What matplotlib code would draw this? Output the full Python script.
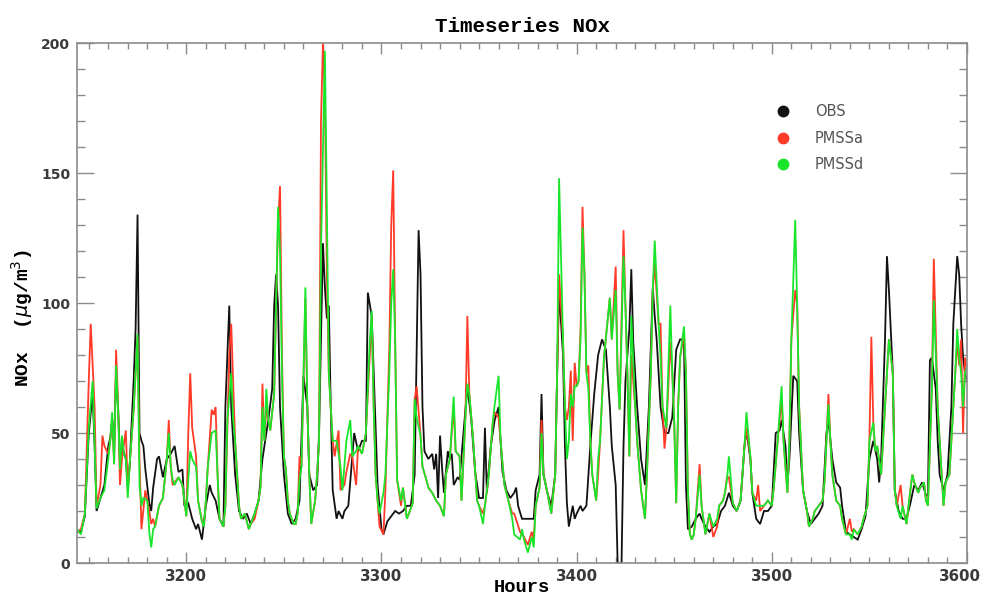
"""Hourly NOx timeseries: observations vs. two PMSS model runs."""

import matplotlib
matplotlib.use("Agg")
import matplotlib.pyplot as plt
from matplotlib.lines import Line2D
from matplotlib.ticker import MultipleLocator
from matplotlib.transforms import ScaledTranslation

# (hour, NOx ug/m3), one list per series
obs = [
    (3144, 12), (3146, 12), (3148, 18), (3150, 50), (3152, 65), (3153, 45), (3154, 20),
    (3156, 25), (3158, 30), (3160, 45), (3161, 48), (3162, 55), (3163, 45), (3164, 74),
    (3165, 60), (3166, 40), (3167, 45), (3169, 40), (3170, 30), (3171, 38), (3173, 70),
    (3174, 90), (3175, 134), (3176, 50), (3177, 47), (3178, 45), (3179, 36), (3181, 23),
    (3182, 20), (3183, 29), (3185, 40), (3186, 41), (3188, 33), (3190, 40), (3192, 42),
    (3194, 45), (3196, 35), (3198, 36), (3199, 22), (3201, 23), (3203, 17), (3205, 13),
    (3206, 15), (3208, 9), (3210, 22), (3212, 30), (3213, 27), (3215, 24), (3217, 17),
    (3219, 14), (3220, 60), (3222, 99), (3223, 60), (3225, 34), (3227, 20), (3229, 17),
    (3231, 19), (3233, 15), (3235, 19), (3237, 24), (3239, 40), (3241, 50), (3242, 55),
    (3244, 67), (3245, 99), (3246, 111), (3247, 99), (3248, 60), (3250, 34), (3252, 19),
    (3254, 15), (3256, 17), (3258, 24), (3260, 72), (3262, 60), (3263, 34), (3265, 28),
    (3267, 30), (3268, 50), (3270, 123), (3271, 106), (3272, 94), (3273, 99), (3274, 60),
    (3275, 28), (3277, 17), (3278, 20), (3280, 17), (3281, 20), (3283, 22), (3285, 41),
    (3286, 50), (3288, 43), (3290, 47), (3292, 47), (3293, 104), (3295, 95), (3296, 73),
    (3297, 50), (3298, 30), (3300, 13), (3301, 11), (3303, 16), (3305, 18), (3307, 20),
    (3309, 19), (3311, 20), (3313, 22), (3315, 22), (3317, 34), (3318, 80), (3319, 128),
    (3320, 111), (3321, 60), (3322, 43), (3324, 40), (3326, 42), (3327, 36), (3328, 42),
    (3329, 25), (3330, 49), (3331, 37), (3332, 27), (3334, 43), (3335, 40), (3336, 42),
    (3337, 30), (3339, 33), (3340, 32), (3342, 50), (3344, 68), (3346, 55), (3348, 35),
    (3350, 25), (3352, 25), (3353, 52), (3354, 27), (3356, 45), (3358, 55), (3360, 60),
    (3361, 47), (3362, 35), (3364, 28), (3366, 25), (3368, 27), (3369, 29), (3370, 22),
    (3372, 17), (3375, 17), (3378, 17), (3379, 28), (3381, 34), (3382, 65), (3383, 34),
    (3385, 27), (3387, 22), (3389, 34), (3390, 73), (3391, 105), (3393, 80), (3394, 45),
    (3395, 23), (3396, 14), (3398, 22), (3399, 17), (3400, 19), (3402, 22), (3403, 20),
    (3405, 22), (3407, 45), (3409, 65), (3411, 80), (3413, 86), (3415, 82), (3417, 60),
    (3418, 45), (3420, 30), (3421, 0), (3423, 0), (3424, 45), (3425, 70), (3427, 90),
    (3428, 113), (3429, 85), (3431, 60), (3433, 40), (3435, 30), (3437, 60), (3439, 106),
    (3440, 95), (3441, 86), (3443, 60), (3445, 50), (3447, 50), (3449, 56), (3451, 82),
    (3453, 86), (3455, 86), (3456, 30), (3457, 13), (3459, 14), (3461, 17), (3463, 19),
    (3464, 17), (3466, 14), (3468, 12), (3470, 14), (3472, 15), (3474, 20), (3476, 22),
    (3478, 27), (3480, 22), (3482, 20), (3484, 24), (3486, 45), (3487, 51), (3489, 40),
    (3490, 27), (3492, 17), (3494, 15), (3496, 20), (3498, 20), (3500, 22), (3502, 50),
    (3504, 51), (3505, 55), (3507, 45), (3508, 30), (3509, 40), (3511, 72), (3513, 70),
    (3514, 50), (3516, 28), (3518, 20), (3520, 15), (3522, 17), (3524, 19), (3526, 22),
    (3528, 50), (3529, 55), (3531, 40), (3533, 31), (3535, 29), (3536, 22), (3538, 12),
    (3540, 11), (3542, 10), (3544, 9), (3546, 13), (3548, 18), (3550, 40), (3552, 47),
    (3554, 40), (3555, 31), (3556, 40), (3558, 86), (3559, 118), (3560, 105), (3562, 73),
    (3563, 28), (3565, 20), (3567, 17), (3569, 17), (3571, 23), (3573, 30), (3575, 28),
    (3577, 31), (3579, 26), (3580, 26), (3581, 78), (3582, 79), (3583, 73), (3584, 67),
    (3585, 47), (3586, 34), (3588, 28), (3590, 34), (3591, 47), (3592, 60), (3593, 92),
    (3595, 118), (3596, 111), (3597, 92), (3598, 79), (3599, 73), (3600, 70),
]

pmssa = [
    (3144, 12), (3146, 13), (3148, 19), (3150, 70), (3151, 92), (3153, 60), (3154, 22),
    (3156, 30), (3157, 49), (3158, 45), (3160, 42), (3161, 47), (3162, 55), (3163, 38),
    (3164, 82), (3165, 62), (3166, 30), (3167, 40), (3169, 51), (3170, 28), (3171, 38),
    (3173, 59), (3175, 87), (3176, 40), (3177, 13), (3179, 28), (3181, 20), (3182, 15),
    (3183, 17), (3184, 14), (3186, 22), (3188, 25), (3190, 40), (3191, 55), (3192, 37),
    (3193, 30), (3196, 33), (3198, 30), (3199, 24), (3200, 18), (3201, 50), (3202, 73),
    (3203, 52), (3205, 41), (3206, 24), (3208, 16), (3209, 14), (3210, 24), (3211, 37),
    (3213, 59), (3214, 57), (3215, 60), (3216, 34), (3217, 17), (3219, 14), (3220, 22),
    (3222, 80), (3223, 92), (3224, 70), (3225, 47), (3227, 22), (3228, 17), (3230, 19),
    (3232, 13), (3233, 15), (3235, 17), (3237, 24), (3238, 29), (3239, 69), (3240, 47),
    (3241, 60), (3242, 55), (3243, 51), (3245, 65), (3246, 100), (3247, 130), (3248, 145),
    (3249, 80), (3250, 41), (3251, 36), (3252, 24), (3253, 19), (3255, 15), (3256, 15),
    (3257, 19), (3258, 41), (3259, 37), (3261, 102), (3262, 60), (3263, 34), (3264, 15),
    (3266, 24), (3267, 34), (3268, 47), (3269, 170), (3270, 200), (3271, 180), (3272, 111),
    (3273, 73), (3275, 47), (3276, 41), (3278, 51), (3279, 28), (3281, 30), (3282, 35),
    (3284, 42), (3285, 41), (3287, 30), (3288, 45), (3290, 42), (3292, 50), (3294, 80),
    (3295, 95), (3296, 60), (3297, 34), (3299, 14), (3301, 11), (3302, 28), (3304, 83),
    (3305, 130), (3306, 151), (3307, 86), (3308, 32), (3310, 22), (3311, 29), (3313, 17),
    (3314, 19), (3316, 23), (3317, 63), (3318, 68), (3320, 49), (3321, 37), (3323, 32),
    (3324, 29), (3326, 27), (3328, 24), (3330, 22), (3332, 18), (3333, 34), (3335, 40),
    (3337, 60), (3338, 43), (3340, 41), (3341, 24), (3343, 56), (3344, 95), (3345, 65),
    (3347, 47), (3349, 24), (3350, 22), (3352, 19), (3353, 22), (3355, 34), (3357, 54),
    (3358, 58), (3360, 56), (3361, 47), (3363, 30), (3365, 24), (3367, 19), (3368, 19),
    (3371, 12), (3373, 10), (3375, 7), (3377, 12), (3378, 9), (3379, 22), (3381, 29),
    (3382, 55), (3383, 34), (3385, 27), (3387, 19), (3389, 34), (3390, 73), (3391, 111),
    (3393, 86), (3394, 60), (3395, 55), (3396, 60), (3397, 74), (3398, 47), (3399, 77),
    (3400, 68), (3401, 70), (3402, 90), (3403, 137), (3404, 111), (3405, 73), (3406, 76),
    (3407, 47), (3408, 34), (3410, 24), (3411, 34), (3412, 47), (3414, 79), (3417, 102),
    (3418, 86), (3420, 114), (3421, 73), (3422, 59), (3424, 128), (3425, 99), (3426, 73),
    (3427, 41), (3428, 80), (3430, 60), (3431, 47), (3433, 28), (3435, 17), (3436, 34),
    (3438, 73), (3439, 105), (3440, 115), (3442, 92), (3443, 92), (3444, 60), (3445, 44),
    (3446, 52), (3448, 85), (3449, 73), (3450, 54), (3451, 23), (3452, 60), (3453, 79),
    (3455, 88), (3456, 73), (3457, 28), (3458, 11), (3459, 9), (3460, 11), (3461, 17),
    (3463, 38), (3464, 22), (3466, 11), (3468, 19), (3470, 10), (3472, 14), (3473, 22),
    (3475, 24), (3476, 27), (3477, 33), (3478, 33), (3480, 23), (3482, 20), (3484, 24),
    (3486, 45), (3487, 52), (3489, 41), (3490, 27), (3492, 24), (3493, 30), (3494, 20),
    (3496, 22), (3498, 24), (3500, 22), (3501, 29), (3503, 47), (3505, 63), (3506, 47),
    (3508, 27), (3509, 47), (3510, 86), (3512, 105), (3513, 99), (3514, 60), (3516, 28),
    (3518, 20), (3519, 14), (3521, 17), (3522, 20), (3524, 22), (3526, 24), (3527, 31),
    (3528, 47), (3529, 65), (3530, 47), (3531, 34), (3533, 24), (3535, 22), (3536, 17),
    (3538, 11), (3540, 17), (3541, 12), (3542, 13), (3544, 11), (3546, 14), (3547, 17),
    (3549, 22), (3550, 47), (3551, 87), (3552, 54), (3553, 43), (3554, 45), (3556, 34),
    (3558, 60), (3559, 73), (3560, 86), (3562, 73), (3563, 28), (3564, 22), (3566, 30),
    (3567, 22), (3569, 15), (3571, 28), (3572, 34), (3573, 31), (3575, 27), (3576, 29),
    (3578, 31), (3579, 24), (3580, 22), (3582, 67), (3583, 117), (3585, 60), (3586, 47),
    (3588, 22), (3589, 31), (3591, 34), (3592, 47), (3594, 73), (3595, 85), (3596, 76),
    (3597, 86), (3598, 50), (3599, 79), (3600, 75),
]

pmssd = [
    (3144, 13), (3146, 11), (3148, 19), (3150, 52), (3152, 70), (3153, 45), (3154, 21),
    (3156, 25), (3158, 28), (3160, 40), (3161, 47), (3162, 58), (3163, 38), (3164, 76),
    (3165, 60), (3166, 36), (3167, 49), (3168, 42), (3169, 40), (3170, 25), (3171, 38),
    (3173, 59), (3175, 88), (3176, 30), (3177, 22), (3178, 25), (3180, 24), (3181, 12),
    (3182, 6), (3183, 13), (3184, 14), (3186, 22), (3188, 25), (3190, 40), (3191, 50),
    (3192, 37), (3193, 32), (3194, 30), (3196, 33), (3198, 30), (3199, 24), (3200, 18),
    (3201, 32), (3202, 43), (3203, 40), (3205, 37), (3206, 24), (3208, 16), (3209, 14),
    (3210, 24), (3211, 37), (3213, 50), (3215, 51), (3216, 34), (3217, 17), (3219, 14),
    (3220, 22), (3221, 55), (3223, 73), (3224, 55), (3225, 47), (3227, 22), (3228, 17),
    (3230, 19), (3232, 13), (3233, 15), (3235, 19), (3237, 24), (3238, 29), (3239, 60),
    (3240, 47), (3241, 67), (3242, 55), (3243, 51), (3245, 65), (3246, 100), (3247, 137),
    (3248, 120), (3249, 73), (3250, 41), (3251, 36), (3252, 24), (3253, 19), (3255, 15),
    (3256, 15), (3257, 19), (3258, 32), (3259, 37), (3261, 106), (3262, 60), (3263, 34),
    (3264, 15), (3266, 24), (3267, 34), (3268, 47), (3269, 120), (3271, 197), (3272, 137),
    (3273, 73), (3275, 47), (3277, 47), (3279, 37), (3280, 28), (3282, 47), (3284, 55),
    (3285, 41), (3287, 43), (3288, 45), (3290, 42), (3292, 50), (3294, 85), (3295, 97),
    (3296, 60), (3297, 34), (3298, 24), (3299, 19), (3301, 27), (3302, 34), (3304, 73),
    (3305, 100), (3306, 113), (3307, 86), (3308, 32), (3310, 24), (3311, 29), (3313, 17),
    (3314, 19), (3316, 23), (3317, 63), (3318, 56), (3320, 49), (3321, 37), (3323, 32),
    (3324, 29), (3326, 27), (3328, 24), (3330, 22), (3332, 18), (3333, 34), (3335, 40),
    (3337, 64), (3338, 43), (3340, 41), (3341, 24), (3343, 56), (3344, 69), (3345, 65),
    (3347, 47), (3349, 24), (3350, 22), (3352, 15), (3353, 22), (3355, 34), (3357, 54),
    (3358, 61), (3360, 72), (3361, 47), (3363, 30), (3365, 24), (3367, 17), (3368, 11),
    (3371, 9), (3372, 13), (3373, 9), (3375, 4), (3377, 10), (3378, 6), (3379, 22),
    (3381, 29), (3382, 50), (3383, 34), (3385, 27), (3387, 19), (3389, 34), (3390, 73),
    (3391, 148), (3393, 86), (3394, 60), (3395, 40), (3396, 47), (3397, 65), (3398, 60),
    (3399, 68), (3400, 68), (3401, 70), (3402, 86), (3403, 129), (3404, 111), (3405, 73),
    (3406, 67), (3407, 47), (3408, 34), (3410, 24), (3411, 40), (3412, 47), (3414, 79),
    (3417, 102), (3418, 86), (3420, 105), (3421, 73), (3422, 59), (3424, 118), (3425, 99),
    (3426, 73), (3427, 41), (3428, 95), (3430, 60), (3431, 47), (3433, 28), (3435, 17),
    (3436, 34), (3438, 73), (3439, 105), (3440, 124), (3442, 92), (3443, 79), (3444, 60),
    (3446, 52), (3448, 99), (3449, 73), (3450, 54), (3451, 23), (3452, 60), (3453, 79),
    (3455, 91), (3456, 73), (3457, 28), (3458, 11), (3459, 9), (3460, 11), (3461, 17),
    (3463, 34), (3464, 22), (3466, 11), (3468, 19), (3470, 14), (3472, 17), (3473, 22),
    (3475, 24), (3476, 27), (3477, 32), (3478, 41), (3480, 23), (3482, 20), (3484, 24),
    (3486, 45), (3487, 58), (3489, 41), (3490, 27), (3492, 22), (3494, 22), (3496, 22),
    (3498, 24), (3500, 22), (3501, 29), (3503, 47), (3505, 68), (3506, 47), (3508, 27),
    (3509, 47), (3510, 86), (3512, 132), (3513, 99), (3514, 60), (3516, 28), (3518, 20),
    (3519, 14), (3521, 17), (3522, 20), (3524, 22), (3526, 24), (3527, 31), (3528, 47),
    (3529, 61), (3530, 47), (3531, 34), (3533, 24), (3535, 22), (3536, 17), (3538, 11),
    (3540, 11), (3541, 9), (3542, 13), (3544, 11), (3546, 14), (3547, 17), (3549, 22),
    (3550, 47), (3552, 54), (3553, 43), (3554, 45), (3556, 34), (3558, 60), (3559, 73),
    (3560, 86), (3562, 73), (3563, 28), (3564, 22), (3566, 17), (3567, 22), (3569, 15),
    (3571, 28), (3572, 34), (3573, 31), (3575, 27), (3576, 29), (3578, 31), (3579, 24),
    (3580, 22), (3582, 67), (3583, 101), (3585, 60), (3586, 47), (3588, 22), (3589, 31),
    (3591, 34), (3592, 47), (3594, 73), (3595, 90), (3596, 79), (3597, 73), (3598, 60),
    (3599, 73), (3600, 75),
]

series_names = ["OBS", "PMSSa", "PMSSd"]
series_colors = ["#111111", "#ff3b28", "#19e62a"]

x_ticks = [3200, 3300, 3400, 3500, 3600]
y_ticks = [0, 50, 100, 150, 200]

TITLE_FONT = dict(family="Liberation Mono", weight="bold")
AXIS_GRAY = "#8c8c8c"

fig = plt.figure(figsize=(9.84, 5.99), dpi=100)
ax = fig.add_axes([0.0783, 0.0601, 0.9044, 0.8681])

for data, color in zip([obs, pmssa, pmssd], series_colors):
    hours, vals = zip(*data)
    ax.plot(hours, vals, color=color, lw=1.3, solid_joinstyle="miter")

ax.set_xlim(3144, 3600)
ax.set_ylim(0, 200)
ax.set_xticks(x_ticks)
ax.set_yticks(y_ticks)
ax.xaxis.set_minor_locator(MultipleLocator(10))
ax.yaxis.set_minor_locator(MultipleLocator(10))

ax.tick_params(axis="both", which="both", direction="in", top=True, right=True,
               color=AXIS_GRAY, width=1.0)
ax.tick_params(axis="x", which="major", length=8, labelsize=10.8, pad=4)
ax.tick_params(axis="x", which="minor", length=4.5)
ax.tick_params(axis="y", which="major", length=12, labelsize=10, pad=5)
ax.tick_params(axis="y", which="minor", length=6)
for lab in ax.get_xticklabels() + ax.get_yticklabels():
    lab.set_fontweight("bold")
    lab.set_color("#3a3a3a")
# last x label sits a little left of its tick so it stays inside the figure
last = ax.get_xticklabels()[-1]
last.set_transform(last.get_transform() + ScaledTranslation(-5 / 72, 0, fig.dpi_scale_trans))
for sp in ax.spines.values():
    sp.set_color(AXIS_GRAY)
    sp.set_linewidth(1.2)

ax.set_title("Timeseries NOx", fontsize=15, pad=8, **TITLE_FONT)
ax.set_xlabel("Hours", fontsize=13.5, labelpad=-3, **TITLE_FONT)
ax.set_ylabel("NOx  ($\\mu$g/m$^3$)", fontsize=14, labelpad=6, **TITLE_FONT)
ax.yaxis.set_label_coords(-0.047, 0.47)

handles = [Line2D([], [], ls="none", marker="o", ms=7.5, color=c, mec=c)
           for c in series_colors]
ax.legend(handles, series_names, loc="upper left", bbox_to_anchor=(0.785, 0.882),
          frameon=False, fontsize=10.5, labelcolor="#555555", handlelength=1.0,
          handletextpad=1.7, labelspacing=0.78, borderpad=0, borderaxespad=0)

fig.savefig("out.png", dpi=100)
